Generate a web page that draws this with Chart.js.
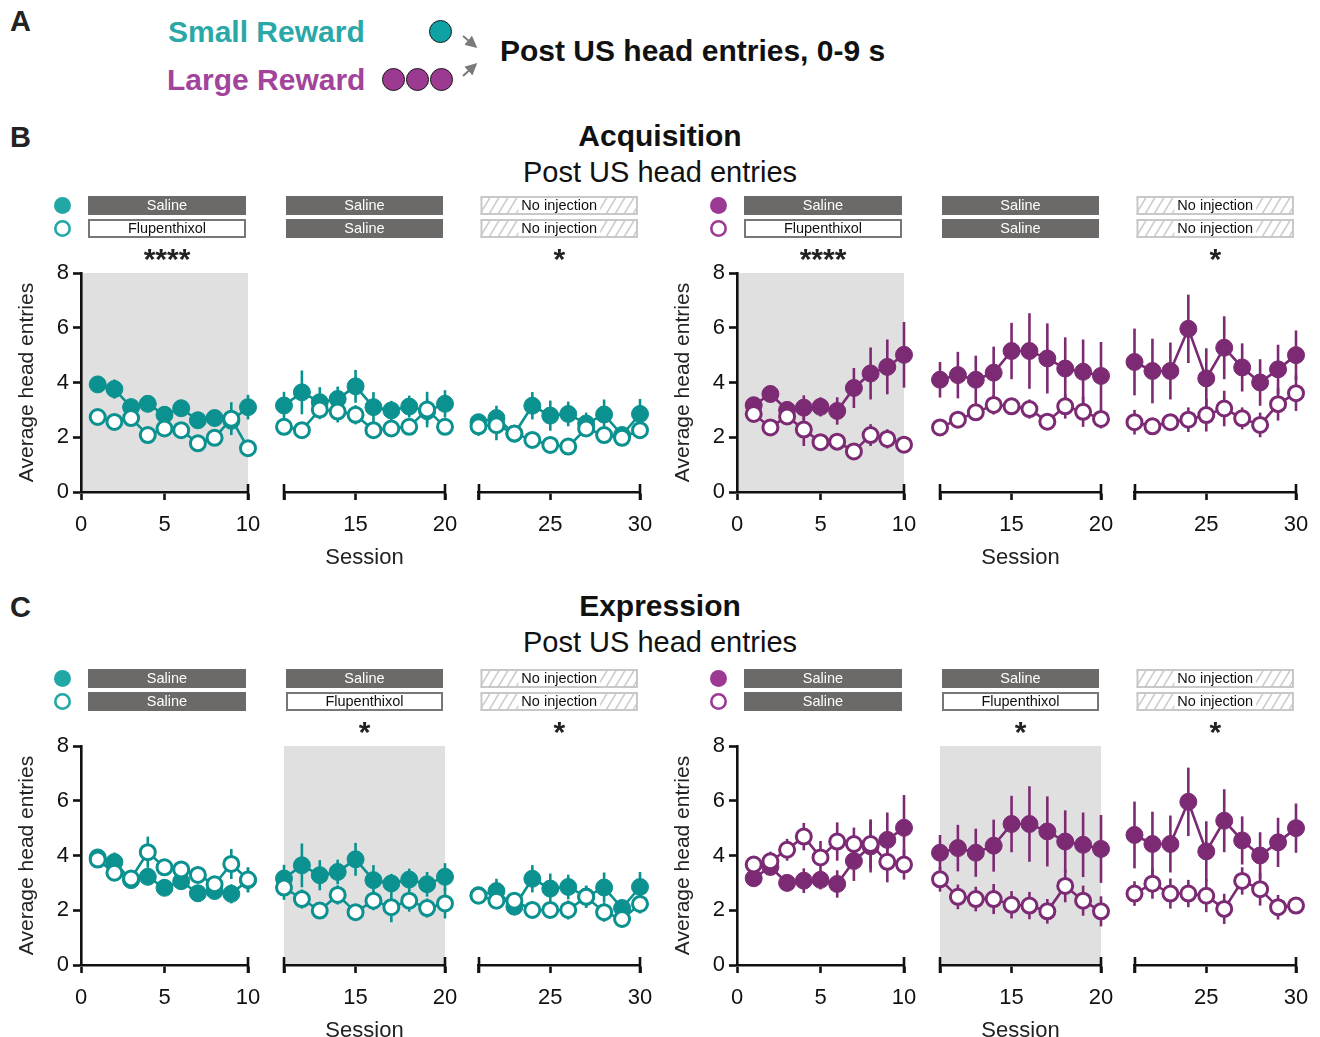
<!DOCTYPE html>
<html>
<head>
<meta charset="utf-8">
<title>Post US head entries</title>
<script src="https://cdn.jsdelivr.net/npm/chart.js"></script>
<style>
  html, body { margin: 0; padding: 0; background: #fff; }
  body {
    width: 1320px; height: 1037px; position: relative; overflow: hidden;
    font-family: "Liberation Sans", Arial, Helvetica, sans-serif; color: #111;
  }
  .t { position: absolute; white-space: nowrap; }
  .letter { font-weight: bold; font-size: 29px; line-height: 30px; color: #222; }
  .head { font-weight: bold; font-size: 30px; line-height: 34px; }
  .ctr { left: 0; width: 1320px; text-align: center; }
  .sub { font-size: 29px; line-height: 34px; }
  .dot { position: absolute; width: 23px; height: 23px; box-sizing: border-box;
         border-radius: 50%; border: 1.6px solid #1a1a1a; }
  canvas { position: absolute; }
</style>
</head>
<body>

<div class="t letter" style="left:10px; top:6px;">A</div>
<div class="t head" style="left:168px; top:15px; color:#2aa8a8;">Small Reward</div>
<div class="t head" style="left:167px; top:63px; color:#a2449b;">Large Reward</div>
<div class="dot" style="left:429px; top:20px; background:#0ea2a4;"></div>
<div class="dot" style="left:382px; top:68px; background:#9c3a92;"></div>
<div class="dot" style="left:406px; top:68px; background:#9c3a92;"></div>
<div class="dot" style="left:430px; top:68px; background:#9c3a92;"></div>
<svg class="t" style="left:456px; top:28px;" width="30" height="56" viewBox="0 0 30 56">
  <defs>
    <marker id="ah" markerWidth="6" markerHeight="6" refX="4.5" refY="3" orient="auto">
      <path d="M0,0 L6,3 L0,6 Z" fill="#7a7a7a"/>
    </marker>
  </defs>
  <line x1="7" y1="8" x2="19" y2="18" stroke="#7a7a7a" stroke-width="2" marker-end="url(#ah)"/>
  <line x1="7" y1="48" x2="19" y2="37" stroke="#7a7a7a" stroke-width="2" marker-end="url(#ah)"/>
</svg>
<div class="t head" style="left:500px; top:34px; color:#111;">Post US head entries, 0-9 s</div>

<div class="t letter" style="left:10px; top:122px;">B</div>
<div class="t head ctr" style="top:119px;">Acquisition</div>
<div class="t sub ctr" style="top:155px;">Post US head entries</div>

<div class="t letter" style="left:10px; top:592px;">C</div>
<div class="t head ctr" style="top:589px;">Expression</div>
<div class="t sub ctr" style="top:625px;">Post US head entries</div>

<canvas id="acqSmall"  width="670" height="395" style="left:0px;   top:185px;"></canvas>
<canvas id="acqLarge"  width="670" height="395" style="left:656px; top:185px;"></canvas>
<canvas id="expSmall"  width="670" height="395" style="left:0px;   top:658px;"></canvas>
<canvas id="expLarge"  width="670" height="395" style="left:656px; top:658px;"></canvas>

<script>
// ---------------------------------------------------------------------------
// Data: average head entries (mean and SEM) per session
// ---------------------------------------------------------------------------
const sessionNumbers = [
  1, 2, 3, 4, 5, 6, 7, 8, 9, 10,
  11, 12, 13, 14, 15, 16, 17, 18, 19, 20,
  21, 22, 23, 24, 25, 26, 27, 28, 29, 30
];

// Small reward, saline group (filled markers)
const smallSalineMean = [
  3.93, 3.76, 3.10, 3.22, 2.82, 3.06, 2.62, 2.70, 2.60, 3.10,
  3.16, 3.64, 3.28, 3.40, 3.86, 3.10, 2.98, 3.12, 2.95, 3.22,
  2.55, 2.70, 2.13, 3.15, 2.79, 2.85, 2.50, 2.83, 2.08, 2.85
];
const smallSalineSem = [
  0.20, 0.35, 0.30, 0.25, 0.30, 0.25, 0.20, 0.30, 0.35, 0.45,
  0.50, 0.80, 0.55, 0.45, 0.60, 0.55, 0.35, 0.40, 0.45, 0.50,
  0.30, 0.45, 0.30, 0.50, 0.55, 0.45, 0.40, 0.55, 0.30, 0.55
];

// Small reward, flupenthixol during acquisition (open markers)
const smallAcqFluMean = [
  2.74, 2.56, 2.70, 2.08, 2.32, 2.26, 1.78, 1.98, 2.68, 1.60,
  2.38, 2.26, 3.01, 2.94, 2.82, 2.26, 2.32, 2.38, 3.01, 2.38,
  2.40, 2.44, 2.14, 1.90, 1.72, 1.66, 2.32, 2.08, 1.98, 2.26
];
const smallAcqFluSem = [
  0.20, 0.20, 0.25, 0.20, 0.25, 0.25, 0.20, 0.30, 0.60, 0.20,
  0.25, 0.20, 0.35, 0.40, 0.35, 0.20, 0.25, 0.30, 0.65, 0.30,
  0.35, 0.55, 0.25, 0.25, 0.20, 0.20, 0.30, 0.25, 0.20, 0.30
];

// Small reward, flupenthixol during expression (open markers)
const smallExpFluMean = [
  3.85, 3.37, 3.16, 4.12, 3.57, 3.49, 3.29, 2.95, 3.69, 3.12,
  2.83, 2.41, 1.99, 2.56, 1.93, 2.35, 2.11, 2.35, 2.08, 2.25,
  2.53, 2.35, 2.35, 2.01, 2.01, 2.01, 2.49, 1.93, 1.68, 2.23
];
const smallExpFluSem = [
  0.20, 0.25, 0.25, 0.57, 0.30, 0.30, 0.30, 0.30, 0.55, 0.45,
  0.45, 0.35, 0.30, 0.35, 0.30, 0.35, 0.55, 0.40, 0.35, 0.55,
  0.30, 0.30, 0.30, 0.30, 0.30, 0.35, 0.40, 0.35, 0.30, 0.35
];

// Large reward, saline group (filled markers)
const largeSalineMean = [
  3.17, 3.58, 3.00, 3.08, 3.11, 2.96, 3.80, 4.33, 4.57, 5.01,
  4.10, 4.27, 4.10, 4.36, 5.15, 5.15, 4.88, 4.51, 4.39, 4.24,
  4.75, 4.42, 4.42, 5.96, 4.15, 5.27, 4.55, 4.00, 4.48, 5.00
];
const largeSalineSem = [
  0.25, 0.30, 0.30, 0.45, 0.35, 0.50, 0.73, 0.95, 1.00, 1.20,
  0.65, 0.85, 0.88, 0.95, 1.03, 1.38, 1.28, 1.14, 1.18, 1.24,
  1.22, 1.18, 1.04, 1.25, 1.10, 1.15, 0.88, 0.85, 0.90, 0.90
];

// Large reward, flupenthixol during acquisition (open markers)
const largeAcqFluMean = [
  2.85, 2.36, 2.76, 2.28, 1.82, 1.84, 1.48, 2.08, 1.94, 1.73,
  2.36, 2.64, 2.91, 3.18, 3.13, 3.03, 2.57, 3.13, 2.93, 2.67,
  2.55, 2.40, 2.55, 2.64, 2.81, 3.05, 2.69, 2.45, 3.21, 3.61
];
const largeAcqFluSem = [
  0.25, 0.30, 0.30, 0.60, 0.30, 0.30, 0.30, 0.40, 0.35, 0.30,
  0.30, 0.30, 0.30, 0.35, 0.30, 0.35, 0.30, 0.45, 0.55, 0.35,
  0.45, 0.30, 0.30, 0.45, 0.60, 0.65, 0.40, 0.45, 0.60, 0.65
];

// Large reward, flupenthixol during expression (open markers)
const largeExpFluMean = [
  3.67, 3.79, 4.21, 4.69, 3.93, 4.51, 4.42, 4.42, 3.77, 3.67,
  3.13, 2.49, 2.41, 2.41, 2.20, 2.17, 1.96, 2.89, 2.35, 1.96,
  2.61, 2.97, 2.61, 2.61, 2.53, 2.05, 3.07, 2.77, 2.11, 2.17
];
const largeExpFluSem = [
  0.30, 0.35, 0.40, 0.50, 0.60, 0.70, 0.60, 0.90, 0.75, 0.55,
  0.45, 0.45, 0.45, 0.55, 0.50, 0.50, 0.45, 0.60, 0.55, 0.55,
  0.45, 0.55, 0.55, 0.50, 0.60, 0.55, 0.50, 0.60, 0.45, 0.30
];

// Session blocks of the broken x axis, and their tick values
const segmentRanges = [[0, 10], [11, 20], [21, 30]];
const segmentTicks = [[0, 5, 10], [11, 15, 20], [21, 25, 30]];
const yTickValues = [0, 2, 4, 6, 8];

// Treatment labels per block, and significance marks
const acqFilledRow = ['Saline', 'Saline', 'No injection'];
const acqOpenRow   = ['Flupenthixol', 'Saline', 'No injection'];
const acqStars     = ['****', '', '*'];
const expFilledRow = ['Saline', 'Saline', 'No injection'];
const expOpenRow   = ['Saline', 'Flupenthixol', 'No injection'];
const expStars     = ['', '*', '*'];

// ---------------------------------------------------------------------------
// Layout and style
// ---------------------------------------------------------------------------
const FONT = '"Liberation Sans", Arial, Helvetica, sans-serif';
const INK = '#111';
const PLOT_RIGHT = 640;
const SEGMENT_WEIGHTS = [167, 161, 161.5];
const GAP_WEIGHTS = [36, 33.5];
const ROW_TOP = [11, 34];
const ROW_H = 19;
const STAR_BASELINE = 84;

const TEAL = '#0b918f', TEAL_KEY = '#22a7a7';
const PURPLE = '#7b2a73', PURPLE_KEY = '#9c3993';

function seriesPoints(means, sems, seg) {
  const [lo, hi] = segmentRanges[seg];
  const pts = [];
  sessionNumbers.forEach((s, i) => {
    if (s >= lo && s <= hi) pts.push({ x: s, y: means[i], sem: sems[i] });
  });
  return pts;
}

function drawTag(ctx, x0, x1, top, h, label) {
  const w = x1 - x0;
  ctx.save();
  ctx.font = '14.5px ' + FONT;
  ctx.textAlign = 'center';
  ctx.textBaseline = 'middle';
  const cx = (x0 + x1) / 2, cy = top + h / 2 + 0.5;
  if (label === 'Saline') {
    ctx.fillStyle = '#6b6a68';
    ctx.fillRect(x0, top, w, h);
    ctx.fillStyle = '#fff';
    ctx.fillText(label, cx, cy);
  } else if (label === 'Flupenthixol') {
    ctx.fillStyle = '#fff';
    ctx.fillRect(x0, top, w, h);
    ctx.strokeStyle = '#777';
    ctx.lineWidth = 2;
    ctx.strokeRect(x0 + 1, top + 1, w - 2, h - 2);
    ctx.fillStyle = INK;
    ctx.fillText(label, cx, cy);
  } else {
    ctx.fillStyle = '#fff';
    ctx.fillRect(x0, top, w, h);
    ctx.save();
    ctx.beginPath();
    ctx.rect(x0, top, w, h);
    ctx.clip();
    ctx.strokeStyle = '#cdcdcd';
    ctx.lineWidth = 1.6;
    for (let x = x0 - h; x < x1 + h; x += 9) {
      ctx.beginPath();
      ctx.moveTo(x, top + h);
      ctx.lineTo(x + h * 0.6, top);
      ctx.stroke();
    }
    ctx.restore();
    const tw = ctx.measureText(label).width;
    ctx.fillStyle = '#fff';
    ctx.fillRect(cx - tw / 2 - 3, top + 2, tw + 6, h - 4);
    ctx.strokeStyle = '#c8c8c8';
    ctx.lineWidth = 2;
    ctx.strokeRect(x0 + 1, top + 1, w - 2, h - 2);
    ctx.fillStyle = INK;
    ctx.fillText(label, cx, cy);
  }
  ctx.restore();
}

// Shaded drug block, error bars, treatment rows, stars and axis end caps
const panelDecor = {
  id: 'panelDecor',
  beforeDraw(chart, args, o) {
    const { ctx } = chart;
    const y = chart.scales.y;
    const xs = chart.scales['seg' + o.shaded];
    ctx.save();
    ctx.fillStyle = '#e0e0e0';
    ctx.fillRect(xs.left, y.getPixelForValue(8), xs.right - xs.left,
                 y.getPixelForValue(0) - y.getPixelForValue(8));
    ctx.restore();
  },
  beforeDatasetDraw(chart, args) {
    const { ctx } = chart;
    const ds = chart.data.datasets[args.index];
    const y = chart.scales.y;
    ctx.save();
    ctx.strokeStyle = ds.borderColor;
    ctx.lineWidth = 2.6;
    args.meta.data.forEach((pt, i) => {
      const d = ds.data[i];
      ctx.beginPath();
      ctx.moveTo(pt.x, y.getPixelForValue(d.y + d.sem));
      ctx.lineTo(pt.x, y.getPixelForValue(d.y - d.sem));
      ctx.stroke();
    });
    ctx.restore();
  },
  afterDraw(chart, args, o) {
    const { ctx } = chart;
    const area = chart.chartArea;
    // key markers beside the treatment rows
    const kx = area.left - 18.5;
    ctx.save();
    ctx.fillStyle = o.keyColor;
    ctx.beginPath();
    ctx.arc(kx, ROW_TOP[0] + ROW_H / 2, 8.5, 0, Math.PI * 2);
    ctx.fill();
    ctx.strokeStyle = o.keyColor;
    ctx.lineWidth = 2.6;
    ctx.beginPath();
    ctx.arc(kx, ROW_TOP[1] + ROW_H / 2, 7.2, 0, Math.PI * 2);
    ctx.stroke();
    ctx.restore();

    for (let seg = 0; seg < 3; seg++) {
      const xs = chart.scales['seg' + seg];
      const x0 = xs.left + (seg === 0 ? 7 : 2);
      const x1 = xs.right - 2;
      drawTag(ctx, x0, x1, ROW_TOP[0], ROW_H, o.filledRow[seg]);
      drawTag(ctx, x0, x1, ROW_TOP[1], ROW_H, o.openRow[seg]);
      if (o.stars[seg]) {
        ctx.save();
        ctx.font = 'bold 30px ' + FONT;
        ctx.fillStyle = '#222';
        ctx.textAlign = 'center';
        ctx.textBaseline = 'alphabetic';
        ctx.fillText(o.stars[seg], (x0 + x1) / 2, STAR_BASELINE);
        ctx.restore();
      }
      // end caps of each axis block
      const ay = xs.top;
      const ends = seg === 0 ? [xs.right] : [xs.left, xs.right];
      ctx.save();
      ctx.strokeStyle = INK;
      ctx.lineWidth = 2.6;
      ends.forEach(ex => {
        const px = Math.round(ex);
        ctx.beginPath();
        ctx.moveTo(px, ay - 8);
        ctx.lineTo(px, ay + 8);
        ctx.stroke();
      });
      ctx.restore();
    }
  }
};

function segmentScale(seg) {
  return {
    type: 'linear', axis: 'x', position: 'bottom',
    stack: 'session', stackWeight: SEGMENT_WEIGHTS[seg],
    min: segmentRanges[seg][0], max: segmentRanges[seg][1],
    afterBuildTicks: s => { s.ticks = segmentTicks[seg].map(v => ({ value: v })); },
    afterFit: s => { s.height = 80; },
    grid: { display: true, drawOnChartArea: false, drawTicks: true,
            tickLength: 8, tickWidth: 2.6, tickColor: INK },
    border: { display: true, color: INK, width: 2.6 },
    ticks: { autoSkip: false, maxRotation: 0, padding: 12, color: INK,
             font: { family: FONT, size: 22 },
             callback: v => (v % 5 === 0 ? String(v) : '') },
    title: seg === 1
      ? { display: true, text: 'Session', color: '#222',
          font: { family: FONT, size: 22 }, padding: { top: 0, bottom: 1 } }
      : { display: false }
  };
}

function gapScale(i) {
  return {
    type: 'linear', axis: 'x', position: 'bottom', display: false,
    stack: 'session', stackWeight: GAP_WEIGHTS[i], min: 0, max: 1
  };
}

function makePanel(id, cfg) {
  const datasets = [];
  for (let seg = 0; seg < 3; seg++) {
    datasets.push({
      label: 'open ' + seg,
      data: seriesPoints(cfg.openMean, cfg.openSem, seg),
      xAxisID: 'seg' + seg, yAxisID: 'y', clip: false,
      borderColor: cfg.color, backgroundColor: '#fff', borderWidth: 2.6,
      pointRadius: 7.5, pointBorderWidth: 3,
      pointBackgroundColor: '#fff', pointBorderColor: cfg.color,
      tension: 0, order: 0
    });
    datasets.push({
      label: 'filled ' + seg,
      data: seriesPoints(cfg.filledMean, cfg.filledSem, seg),
      xAxisID: 'seg' + seg, yAxisID: 'y', clip: false,
      borderColor: cfg.color, backgroundColor: cfg.color, borderWidth: 2.6,
      pointRadius: 8.5, pointBorderWidth: 1,
      pointBackgroundColor: cfg.color, pointBorderColor: cfg.color,
      tension: 0, order: 1
    });
  }
  const canvas = document.getElementById(id);
  return new Chart(canvas, {
    type: 'line',
    data: { datasets },
    options: {
      responsive: false, animation: false, devicePixelRatio: 1, events: [],
      layout: { padding: { left: 0, right: canvas.width - PLOT_RIGHT - cfg.shift, top: 88, bottom: 8 } },
      scales: {
        seg0: segmentScale(0),
        gap0: gapScale(0),
        seg1: segmentScale(1),
        gap1: gapScale(1),
        seg2: segmentScale(2),
        y: {
          type: 'linear', position: 'left', min: 0, max: 8,
          afterFit: s => { s.width = 81 + cfg.shift; },
          afterBuildTicks: s => { s.ticks = yTickValues.map(v => ({ value: v })); },
          grid: { drawOnChartArea: false, tickLength: 8, tickWidth: 2.6, tickColor: INK },
          border: { display: true, color: INK, width: 2.6 },
          ticks: { padding: 4, color: INK, font: { family: FONT, size: 22 } },
          title: { display: true, text: 'Average head entries', color: '#222',
                   font: { family: FONT, size: 21 }, padding: { top: 15 + cfg.shift, bottom: 0 } }
        }
      },
      plugins: {
        legend: { display: false },
        tooltip: { enabled: false },
        panelDecor: {
          shaded: cfg.shaded, keyColor: cfg.keyColor,
          filledRow: cfg.filledRow, openRow: cfg.openRow, stars: cfg.stars
        }
      }
    },
    plugins: [panelDecor]
  });
}

makePanel('acqSmall', {
  color: TEAL, keyColor: TEAL_KEY, shaded: 0, shift: 0,
  filledMean: smallSalineMean, filledSem: smallSalineSem,
  openMean: smallAcqFluMean, openSem: smallAcqFluSem,
  filledRow: acqFilledRow, openRow: acqOpenRow, stars: acqStars
});
makePanel('acqLarge', {
  color: PURPLE, keyColor: PURPLE_KEY, shaded: 0, shift: 0,
  filledMean: largeSalineMean, filledSem: largeSalineSem,
  openMean: largeAcqFluMean, openSem: largeAcqFluSem,
  filledRow: acqFilledRow, openRow: acqOpenRow, stars: acqStars
});
makePanel('expSmall', {
  color: TEAL, keyColor: TEAL_KEY, shaded: 1, shift: 0,
  filledMean: smallSalineMean, filledSem: smallSalineSem,
  openMean: smallExpFluMean, openSem: smallExpFluSem,
  filledRow: expFilledRow, openRow: expOpenRow, stars: expStars
});
makePanel('expLarge', {
  color: PURPLE, keyColor: PURPLE_KEY, shaded: 1, shift: 0,
  filledMean: largeSalineMean, filledSem: largeSalineSem,
  openMean: largeExpFluMean, openSem: largeExpFluSem,
  filledRow: expFilledRow, openRow: expOpenRow, stars: expStars
});
</script>
</body>
</html>
